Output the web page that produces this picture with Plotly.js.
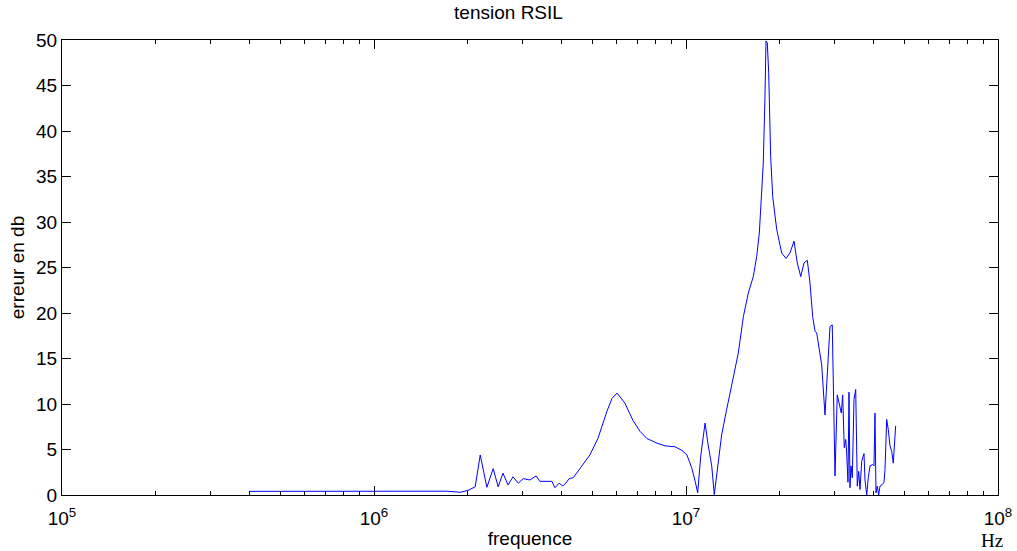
<!DOCTYPE html>
<html>
<head>
<meta charset="utf-8">
<script src="https://cdn.plot.ly/plotly-3.0.1.min.js"></script>
<style>html,body{margin:0;padding:0;background:#fff;}#chart{width:1017px;height:551px;}</style>
</head>
<body>
<div id="chart"></div>
<script>
// frequency (Hz)
const frequency = [
  4.0e5, 5.0e5, 6.0e5, 7.0e5, 8.0e5, 9.0e5, 1.0e6, 1.21e6, 1.40e6, 1.71e6, 1.89e6,
  2.00e6, 2.11e6, 2.19e6, 2.30e6, 2.41e6, 2.50e6, 2.59e6, 2.69e6, 2.79e6, 2.90e6,
  3.01e6, 3.16e6, 3.31e6, 3.40e6, 3.72e6, 3.80e6, 3.92e6, 4.03e6, 4.12e6, 4.22e6,
  4.35e6, 4.57e6, 4.92e6, 5.22e6, 5.58e6, 5.79e6, 6.01e6, 6.37e6, 6.76e6, 7.12e6,
  7.50e6, 8.07e6, 8.57e6, 9.22e6, 9.71e6, 1.007e7, 1.043e7, 1.070e7, 1.09e7,
  1.115e7, 1.151e7, 1.179e7, 1.209e7, 1.232e7, 1.254e7, 1.301e7, 1.350e7, 1.418e7,
  1.471e7, 1.527e7, 1.584e7, 1.643e7, 1.685e7, 1.718e7, 1.748e7, 1.769e7, 1.791e7,
  1.805e7, 1.822e7, 1.841e7, 1.868e7, 1.896e7, 1.953e7, 2.026e7, 2.092e7, 2.154e7,
  2.219e7, 2.274e7, 2.332e7, 2.389e7, 2.448e7, 2.497e7, 2.547e7, 2.591e7, 2.624e7,
  2.655e7, 2.688e7, 2.722e7, 2.789e7, 2.858e7, 2.894e7, 2.943e7, 3.003e7, 3.054e7,
  3.116e7, 3.146e7, 3.178e7, 3.216e7, 3.250e7, 3.274e7, 3.305e7, 3.330e7, 3.354e7,
  3.379e7, 3.412e7, 3.455e7, 3.499e7, 3.540e7, 3.577e7, 3.612e7, 3.657e7, 3.720e7,
  3.747e7, 3.795e7, 3.840e7, 3.888e7, 3.966e7, 4.004e7, 4.034e7, 4.064e7, 4.102e7,
  4.145e7, 4.185e7, 4.257e7, 4.311e7, 4.343e7, 4.398e7, 4.450e7, 4.506e7, 4.563e7,
  4.617e7, 4.699e7
];
// error (dB)
const erreurDb = [
  0.4, 0.4, 0.38, 0.37, 0.37, 0.37, 0.37, 0.38, 0.42, 0.42, 0.3,
  0.5, 0.9, 4.4, 0.85, 2.9, 0.9, 2.4, 1.1, 2.0, 1.3,
  1.8, 1.65, 2.1, 1.5, 1.5, 0.8, 1.3, 1.0, 1.3, 1.8,
  1.9, 2.9, 4.4, 6.2, 9.2, 10.6, 11.2, 10.1, 8.2, 7.0,
  6.2, 5.7, 5.4, 5.3, 4.9, 4.4, 3.0, 1.5, 0.24,
  4.3, 7.9, 5.4, 3.2, 0.05, 2.4, 6.6, 9.4, 13.1,
  15.6, 19.6, 22.2, 24.0, 26.2, 28.8, 32.8, 36.5, 43.8,
  49.9, 49.7, 46.4, 37.2, 32.8, 29.2, 26.6, 26.0, 26.6,
  27.9, 25.5, 24.0, 25.5, 25.8, 23.3, 19.6, 18.0, 17.8,
  16.7, 15.1, 14.3, 8.8, 16.0, 18.5, 18.7, 2.1, 11.0,
  9.7, 9.0, 11.0, 5.2, 6.1, 4.6, 1.4, 11.3, 0.8,
  3.2, 1.9, 10.5, 11.6, 0.97, 2.6, 0.6, 3.7, 4.55,
  1.65, 0.0, 1.9, 3.2, 3.35, 3.2, 9.0, 0.24, 0.97,
  0.0, 0.97, 1.15, 1.4, 2.8, 8.3, 7.2, 5.4, 4.8,
  3.5, 7.6
];
const xTickVals = [1e5, 1e6, 1e7, 1e8];
const xTickText = ['10<sup>5</sup>', '10<sup>6</sup>', '10<sup>7</sup>', '10<sup>8</sup>'];
const xMinorVals = [
  2e5, 3e5, 4e5, 5e5, 6e5, 7e5, 8e5, 9e5,
  2e6, 3e6, 4e6, 5e6, 6e6, 7e6, 8e6, 9e6,
  2e7, 3e7, 4e7, 5e7, 6e7, 7e7, 8e7, 9e7
];
const yTickVals = [0, 5, 10, 15, 20, 25, 30, 35, 40, 45, 50];

const font = {family: 'Liberation Sans, Arial, sans-serif', size: 19, color: '#000'};

const trace = {
  x: frequency, y: erreurDb, type: 'scatter', mode: 'lines',
  line: {color: '#0000ff', width: 1}, hoverinfo: 'x+y'
};

const layout = {
  width: 1017, height: 551,
  margin: {l: 62, r: 19, t: 40, b: 56},
  paper_bgcolor: '#fff', plot_bgcolor: '#fff',
  showlegend: false,
  font: font,
  title: {text: 'tension RSIL', font: {family: font.family, size: 19, color: '#000'}, x: 0.5, xanchor: 'center', y: 0.989, yanchor: 'top'},
  xaxis: {
    type: 'log', range: [5, 8],
    tickvals: xTickVals, ticktext: xTickText,
    ticks: 'inside', ticklen: 9, tickcolor: '#000', tickwidth: 1,
    ticklabelstandoff: 6,
    minor: {tickvals: xMinorVals, ticks: 'inside', ticklen: 4, tickcolor: '#000', showgrid: false},
    showline: true, linecolor: '#000', linewidth: 1, mirror: 'ticks',
    showgrid: false, zeroline: false,
    tickfont: font,
    title: {text: 'frequence', font: font, standoff: 3}
  },
  yaxis: {
    range: [0, 50], tickvals: yTickVals,
    ticks: 'inside', ticklen: 9, tickcolor: '#000', tickwidth: 1,
    showline: true, linecolor: '#000', linewidth: 1, mirror: 'ticks',
    showgrid: false, zeroline: false,
    tickfont: font,
    title: {text: 'erreur en db', font: font, standoff: 6}
  },
  annotations: [{
    text: 'Hz', xref: 'paper', yref: 'paper', x: 1.0, y: 0, xanchor: 'center', yanchor: 'top',
    yshift: -33, xshift: -6, showarrow: false,
    font: {family: 'Liberation Serif, Times New Roman, serif', size: 19, color: '#000'}
  }]
};

Plotly.newPlot('chart', [trace], layout, {displayModeBar: false, staticPlot: true});
</script>
</body>
</html>
